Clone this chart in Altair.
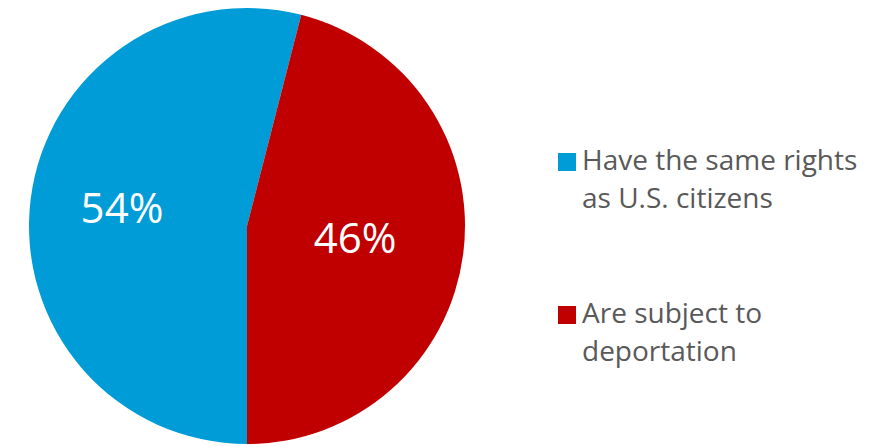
import math
import altair as alt
import pandas as pd

categories = ["Have the same rights|as U.S. citizens", "Are subject to|deportation"]
values = [54, 46]
labels = ["54%", "46%"]
colors = ["#009CD8", "#C00000"]

df = pd.DataFrame({"category": categories, "value": values, "label": labels, "order": [0, 1]})

theta_scale = alt.Scale(domain=[0, 100], range=[math.pi, 3 * math.pi])
color = alt.Color(
    "category:N",
    sort=categories,
    scale=alt.Scale(domain=categories, range=colors),
    legend=alt.Legend(
        title=None,
        orient="none",
        legendX=545,
        legendY=140,
        symbolType="square",
        symbolSize=324,
        symbolStrokeWidth=0,
        labelFont="Open Sans",
        labelFontSize=28,
        labelColor="#595959",
        labelLimit=400,
        labelOffset=1,
        rowPadding=87,
        labelExpr="split(datum.label, '|')",
    ),
)

base = alt.Chart(df).transform_stack(
    stack="value", groupby=[], as_=["v0", "v1"], sort=[alt.SortField("order", "ascending")]
).transform_calculate(mid="(datum.v0 + datum.v1) / 2")

pie = base.mark_arc(outerRadius=218, stroke=None).encode(
    theta=alt.Theta("v0:Q", scale=theta_scale),
    theta2="v1:Q",
    color=color,
)

txt_blue = base.transform_filter(alt.datum.order == 0).mark_text(
    radius=126, font="Open Sans", fontSize=42, color="white"
).encode(theta=alt.Theta("mid:Q", scale=theta_scale), text="label:N")
txt_red = base.transform_filter(alt.datum.order == 1).mark_text(
    radius=109, font="Open Sans", fontSize=42, color="white"
).encode(theta=alt.Theta("mid:Q", scale=theta_scale), text="label:N")

chart = (
    alt.layer(pie, txt_blue, txt_red)
    .properties(width=478, height=436, padding=0)
    .configure_view(stroke=None)
    .configure(style={"guide-label": {"lineHeight": 38}})
)

chart.save("out.html", embed_options={"renderer": "svg", "actions": False})
